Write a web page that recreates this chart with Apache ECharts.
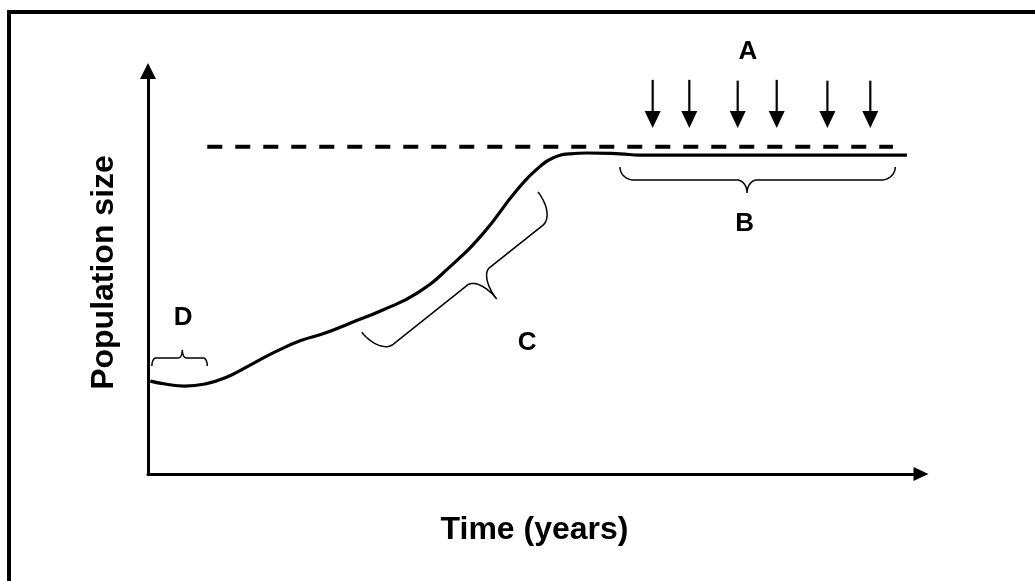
<!DOCTYPE html>
<html><head><meta charset="utf-8">
<script src="https://cdn.jsdelivr.net/npm/echarts@6/dist/echarts.min.js"></script>
<style>html,body{margin:0;padding:0;background:#fff}#c{width:1035px;height:581px}</style>
</head><body><div id="c"></div>
<script>
// ---- data (arbitrary units) ----
const curveTime = [0.3, 2.2, 4.7, 7.3, 9.9, 13.1, 16.3, 19.5, 22.7, 25.9, 30.1, 34.5, 38.7, 43.0, 47.3, 50.3, 51.9, 54.1, 56.3, 60.5, 63.1, 97.3];
const curvePop  = [22.6, 21.9, 21.4, 21.9, 23.4, 26.5, 29.7, 32.4, 34.3, 36.7, 39.9, 44.0, 50.4, 58.6, 69.1, 74.9, 76.9, 77.9, 78.1, 77.9, 77.6, 77.6];
const capacityTime = [7.6, 95.5];
const capacityPop  = [79.6, 79.6];
const arrowTime = [64.7, 69.4, 75.6, 80.6, 87.1, 92.6];
const arrowFrom = [95.9, 95.9, 95.7, 95.9, 95.7, 95.7];
const arrowTo   = [84.2, 84.2, 84.2, 84.2, 84.2, 84.2];
// braces: [startTime, startPop, endTime, endPop, tipTime, tipPop]
const braceB = [60.5, 74.7, 95.8, 74.7, 76.8, 68.4];
const braceC = [27.4, 34.5, 50.0, 68.6, 44.7, 42.6];
const braceD = [0.5, 26.3, 7.6, 26.3, 4.4, 30.2];
const labelText = ['A', 'B', 'C', 'D'];
const labelTime = [76.9, 76.5, 48.6, 4.5];
const labelPop  = [102.7, 60.8, 31.9, 38.0];

const FONT = "'Liberation Sans', Arial, sans-serif";
const braceStyle = [{h: 13, re: 14, rt: 10}, {h: 29, re: 17, rt: 14}, {h: 8, re: 4, rt: 4}];

function cubic(p0, p1, p2, p3, out) {
  for (let i = 1; i <= 16; i++) {
    const t = i / 16, m = 1 - t;
    out.push([
      m*m*m*p0[0] + 3*m*m*t*p1[0] + 3*m*t*t*p2[0] + t*t*t*p3[0],
      m*m*m*p0[1] + 3*m*m*t*p1[1] + 3*m*t*t*p2[1] + t*t*t*p3[1]
    ]);
  }
}

function renderBrace(params, api) {
  const st = braceStyle[params.dataIndex];
  const p0 = api.coord([api.value(0), api.value(1)]);
  const p1 = api.coord([api.value(2), api.value(3)]);
  const pt = api.coord([api.value(4), api.value(5)]);
  const dx = p1[0] - p0[0], dy = p1[1] - p0[1];
  const L = Math.hypot(dx, dy);
  const ax = dx / L, ay = dy / L;
  let nx = -ay, ny = ax;
  const tu = (pt[0]-p0[0])*ax + (pt[1]-p0[1])*ay;
  let tv = (pt[0]-p0[0])*nx + (pt[1]-p0[1])*ny;
  if (tv < 0) { nx = -nx; ny = -ny; tv = -tv; }
  const h = st.h, re = st.re, rt = st.rt, k = 0.55;
  const P = (u, v) => [p0[0] + u*ax + v*nx, p0[1] + u*ay + v*ny];
  const pts = [P(0, 0)];
  cubic(P(0,0), P(0,k*h), P(re-k*re,h), P(re,h), pts);
  pts.push(P(tu-rt, h));
  cubic(P(tu-rt,h), P(tu-rt+k*rt,h), P(tu,tv-k*(tv-h)), P(tu,tv), pts);
  cubic(P(tu,tv), P(tu,tv-k*(tv-h)), P(tu+rt-k*rt,h), P(tu+rt,h), pts);
  pts.push(P(L-re, h));
  cubic(P(L-re,h), P(L-re+k*re,h), P(L,k*h), P(L,0), pts);
  return {type: 'polyline', shape: {points: pts}, style: {fill: null, stroke: '#000', lineWidth: 1.5}};
}

function renderArrow(params, api) {
  const a = api.coord([api.value(0), api.value(1)]);
  const b = api.coord([api.value(0), api.value(2)]);
  const hw = 8, hh = 17;
  return {type: 'group', children: [
    {type: 'line', shape: {x1: a[0], y1: a[1], x2: b[0], y2: b[1] - hh + 2}, style: {stroke: '#000', lineWidth: 2.2}},
    {type: 'polygon', shape: {points: [[b[0]-hw, b[1]-hh], [b[0]+hw, b[1]-hh], [b[0], b[1]]]}, style: {fill: '#000'}}
  ]};
}

function renderLabel(params, api) {
  const p = api.coord([api.value(0), api.value(1)]);
  return {type: 'text', x: p[0], y: p[1], style: {
    text: labelText[params.dataIndex], fill: '#000',
    font: 'bold 26px ' + FONT, textAlign: 'center', textVerticalAlign: 'middle', align: 'center', verticalAlign: 'middle'
  }};
}

const chart = echarts.init(document.getElementById('c'), null, {renderer: 'canvas'});
chart.setOption({
  animation: false,
  backgroundColor: '#fff',
  grid: {left: 148, right: 114, top: 71, bottom: 107, containLabel: false},
  graphic: [{
    type: 'polyline', z: 100,
    shape: {points: [[9, 581], [9, 12], [1035, 12]]},
    style: {fill: null, stroke: '#000', lineWidth: 4}
  }],
  xAxis: {
    type: 'value', min: 0, max: 99.1,
    axisLine: {show: true, symbol: ['none', 'triangle'], symbolSize: [14, 15], lineStyle: {color: '#000', width: 3}},
    axisTick: {show: false}, axisLabel: {show: false}, splitLine: {show: false},
    name: 'Time (years)', nameLocation: 'middle', nameGap: 40,
    nameTextStyle: {fontSize: 32, fontWeight: 'bold', fontFamily: FONT, color: '#000'}
  },
  yAxis: {
    type: 'value', min: 0, max: 98.05,
    axisLine: {show: true, symbol: ['none', 'triangle'], symbolSize: [16, 16], lineStyle: {color: '#000', width: 3}},
    axisTick: {show: false}, axisLabel: {show: false}, splitLine: {show: false},
    name: 'Population size', nameLocation: 'middle', nameGap: 28, nameRotate: 90,
    nameTextStyle: {fontSize: 32, fontWeight: 'bold', fontFamily: FONT, color: '#000'}
  },
  series: [
    {type: 'line', data: curveTime.map((t, i) => [t, curvePop[i]]), smooth: 0.5, symbol: 'none',
     lineStyle: {color: '#000', width: 3.2}, clip: false},
    {type: 'line', data: capacityTime.map((t, i) => [t, capacityPop[i]]), symbol: 'none',
     lineStyle: {color: '#000', width: 4, type: [15, 13]}, clip: false},
    {type: 'custom', renderItem: renderArrow, data: arrowTime.map((t, i) => [t, arrowFrom[i], arrowTo[i]]), clip: false},
    {type: 'custom', renderItem: renderBrace, data: [braceB, braceC, braceD], clip: false},
    {type: 'custom', renderItem: renderLabel, data: labelTime.map((t, i) => [t, labelPop[i]]), clip: false}
  ]
});
</script></body></html>
